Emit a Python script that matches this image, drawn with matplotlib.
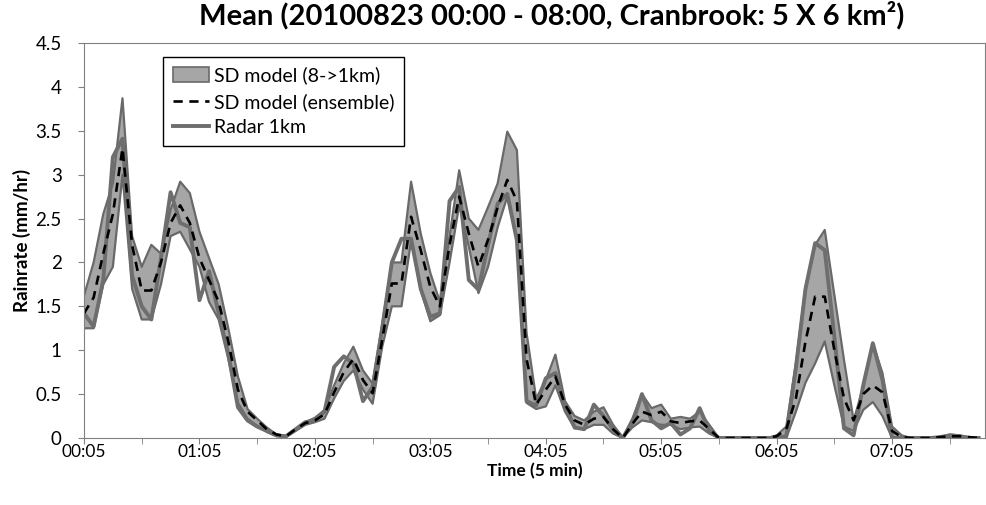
import numpy as np
import matplotlib.pyplot as plt
from matplotlib.patches import Patch
from matplotlib.lines import Line2D

plt.rcParams['font.family'] = ['Lato', 'DejaVu Sans']

# 5-min steps starting at 00:05
radar = [1.42, 1.27, 1.8, 3.2, 3.41, 1.85, 1.5, 1.35, 2.05, 2.8,
         2.45, 2.4, 1.57, 1.9, 1.42, 0.96, 0.35, 0.2, 0.13, 0.08,
         0.03, 0.02, 0.1, 0.18, 0.2, 0.3, 0.81, 0.93, 0.85, 0.42,
         0.58, 1.25, 2.0, 2.27, 2.27, 1.7, 1.38, 1.42, 2.7, 2.86,
         1.8, 1.69, 2.2, 2.67, 2.78, 2.25, 0.42, 0.37, 0.68, 0.74,
         0.38, 0.12, 0.1, 0.38, 0.25, 0.1, 0.0, 0.17, 0.5, 0.2,
         0.11, 0.17, 0.04, 0.11, 0.34, 0.08, 0, 0, 0, 0,
         0, 0, 0, 0.02, 0.8, 1.7, 2.22, 2.14, 1.15, 0.11,
         0.03, 0.6, 1.08, 0.66, 0.0, 0, 0, 0, 0, 0.01,
         0.03, 0.02, 0, 0]

ensemble = [1.42, 1.6, 2.1, 2.55, 3.3, 2.2, 1.68, 1.68, 2.0, 2.45,
            2.65, 2.45, 2.05, 1.8, 1.55, 1.1, 0.55, 0.3, 0.2, 0.1,
            0.04, 0.02, 0.1, 0.17, 0.2, 0.27, 0.52, 0.75, 0.9, 0.66,
            0.51, 1.12, 1.76, 1.76, 2.52, 2.14, 1.72, 1.5, 2.2, 2.75,
            2.33, 1.95, 2.26, 2.63, 2.94, 2.7, 0.9, 0.38, 0.55, 0.7,
            0.38, 0.2, 0.15, 0.22, 0.24, 0.1, 0.0, 0.16, 0.3, 0.26,
            0.3, 0.19, 0.17, 0.19, 0.2, 0.1, 0, 0, 0, 0,
            0, 0, 0.02, 0.1, 0.45, 1.1, 1.61, 1.61, 1.0, 0.45,
            0.2, 0.5, 0.6, 0.52, 0.08, 0.01, 0, 0, 0, 0.01,
            0.02, 0.02, 0.01, 0]

sd_max = [1.62, 2.0, 2.55, 2.9, 3.87, 2.3, 1.95, 2.2, 2.1, 2.6,
          2.92, 2.79, 2.35, 2.05, 1.75, 1.25, 0.7, 0.33, 0.22, 0.12,
          0.04, 0.02, 0.1, 0.18, 0.23, 0.32, 0.6, 0.85, 1.04, 0.77,
          0.62, 1.3, 2.0, 2.0, 2.92, 2.33, 1.88, 1.55, 2.3, 3.05,
          2.5, 2.37, 2.63, 2.9, 3.49, 3.28, 1.2, 0.45, 0.66, 0.95,
          0.42, 0.25, 0.2, 0.3, 0.35, 0.15, 0.01, 0.22, 0.5, 0.34,
          0.38, 0.22, 0.24, 0.22, 0.3, 0.15, 0, 0, 0, 0,
          0, 0, 0.03, 0.13, 0.85, 1.72, 2.2, 2.37, 1.63, 0.89,
          0.2, 0.58, 1.08, 0.74, 0.13, 0.03, 0, 0, 0, 0.01,
          0.04, 0.03, 0.01, 0]

sd_min = [1.25, 1.25, 1.75, 1.95, 3.0, 1.7, 1.35, 1.35, 1.75, 2.3,
          2.35, 2.15, 1.95, 1.55, 1.35, 0.9, 0.4, 0.22, 0.14, 0.07,
          0.02, 0.01, 0.08, 0.15, 0.18, 0.22, 0.45, 0.65, 0.77, 0.55,
          0.39, 1.04, 1.5, 1.5, 2.25, 1.69, 1.33, 1.4, 2.0, 2.65,
          2.18, 1.65, 1.95, 2.4, 2.75, 2.25, 0.4, 0.33, 0.36, 0.6,
          0.3, 0.11, 0.1, 0.15, 0.15, 0.05, 0, 0.12, 0.2, 0.18,
          0.15, 0.15, 0.1, 0.12, 0.13, 0.05, 0, 0, 0, 0,
          0, 0, 0, 0, 0.3, 0.63, 0.85, 1.1, 0.6, 0.13,
          0.08, 0.32, 0.41, 0.25, 0, 0, 0, 0, 0, 0,
          0.01, 0.01, 0, 0]

hour_labels = ['00:05', '01:05', '02:05', '03:05', '04:05', '05:05', '06:05', '07:05']

x = np.arange(len(radar))

fig = plt.figure(figsize=(9.86, 5.05), dpi=100)
ax = fig.add_axes([0.0852, 0.1327, 0.9138, 0.7822])

band_col = '#a6a6a6'
edge_col = '#696969'
ax.fill_between(x, sd_min, sd_max, color=band_col, lw=0)
ax.plot(x, sd_max, color=edge_col, lw=1.6)
ax.plot(x, sd_min, color=edge_col, lw=1.6)
ax.plot(x, radar, color='#6e6e6e', lw=2.8)
ax.plot(x, ensemble, color='black', lw=1.9, dashes=(3.5, 2.5))

ax.set_xlim(0, 93.66)
ax.set_ylim(0, 4.5)
ax.set_yticks(np.arange(0, 4.51, 0.5))
ax.set_yticklabels(['0', '0.5', '1', '1.5', '2', '2.5', '3', '3.5', '4', '4.5'])
ax.set_xticks(np.arange(0, 85, 12))
ax.set_xticklabels(hour_labels)
ax.set_xticks(np.arange(6, 94, 12), minor=True)
ax.tick_params(which='both', direction='out', length=4, color='#808080', labelsize=13.5)
ax.tick_params(axis='x', labelsize=12.5, pad=0)
ax.tick_params(axis='y', pad=12)
for s in ax.spines.values():
    s.set_color('#808080')

ax.set_xlabel('Time (5 min)', fontsize=12.5, fontweight='bold')
ax.set_ylabel('Rainrate (mm/hr)', fontsize=13.5, fontweight='bold')
ax.xaxis.set_label_coords(0.5, -0.062)
ax.yaxis.set_label_coords(-0.059, 0.5)
fig.suptitle('Mean (20100823 00:00 - 08:00, Cranbrook: 5 X 6 km²)',
             fontsize=21, fontweight='bold', x=0.56, y=0.998)

handles = [Patch(facecolor=band_col, edgecolor=edge_col, lw=1.2),
           Line2D([], [], color='black', lw=1.9, dashes=(3.5, 2.5)),
           Line2D([], [], color='#6e6e6e', lw=2.8)]
labels = ['SD model (8->1km)', 'SD model (ensemble)', 'Radar 1km']
leg = ax.legend(handles, labels, loc='upper left', bbox_to_anchor=(0.0877, 0.9646),
                fontsize=14, fancybox=False, edgecolor='black', framealpha=1,
                handlelength=1.85, handleheight=0.8, handletextpad=0.25,
                labelspacing=0.42, borderaxespad=0, borderpad=0.5)
leg.get_frame().set_linewidth(1.0)

fig.savefig('out.png', dpi=100)
